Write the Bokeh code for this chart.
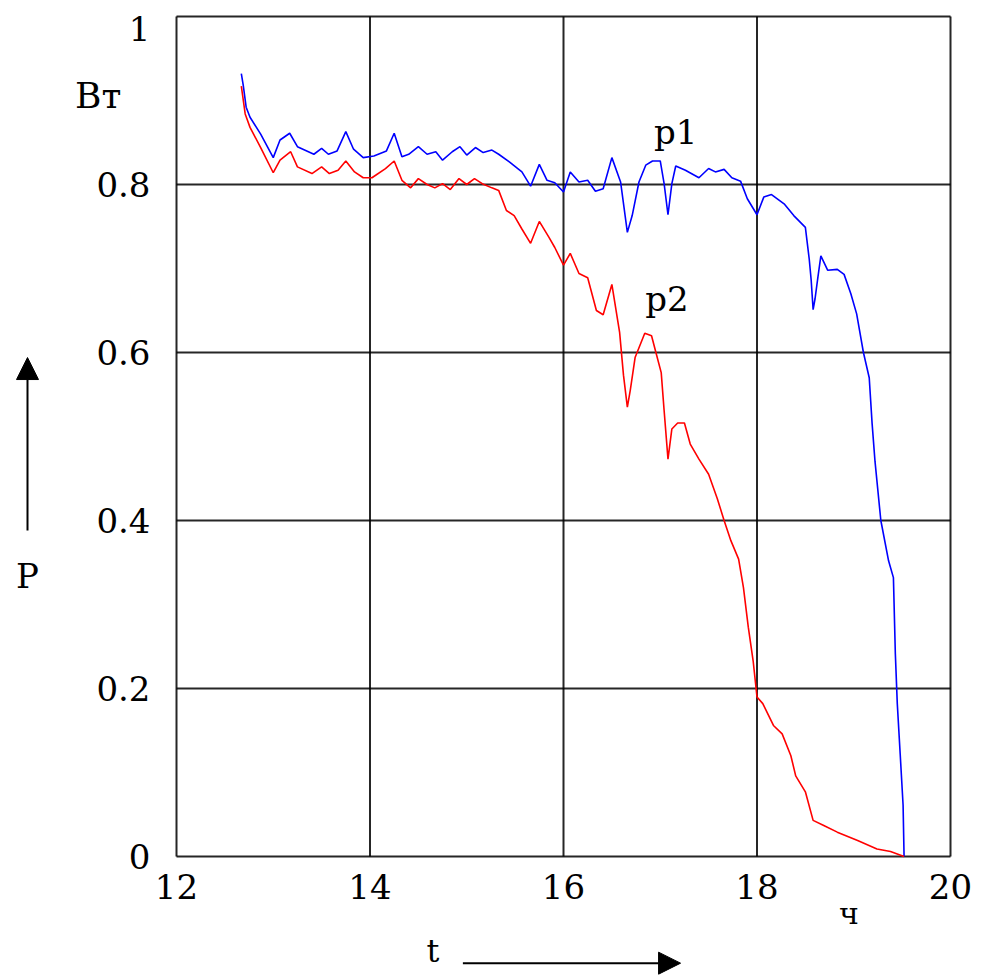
from bokeh.plotting import figure
from bokeh.models import Range1d, Arrow, NormalHead
from bokeh.core.properties import value
from bokeh.embed import file_html
from bokeh.resources import INLINE

# ---- data ----
p1_t = [12.67, 12.69, 12.72, 12.76, 12.87, 13.00, 13.07, 13.17, 13.25, 13.42, 13.50, 13.57,
        13.66, 13.75, 13.83, 13.93, 14.04, 14.17, 14.25, 14.33, 14.40, 14.50, 14.59, 14.68,
        14.75, 14.85, 14.93, 15.00, 15.09, 15.17, 15.26, 15.33, 15.44, 15.57, 15.66, 15.75,
        15.83, 15.91, 16.00, 16.07, 16.16, 16.25, 16.33, 16.41, 16.50, 16.59, 16.66, 16.71,
        16.78, 16.85, 16.92, 17.00, 17.04, 17.08, 17.12, 17.16, 17.26, 17.40, 17.50, 17.57,
        17.66, 17.74, 17.83, 17.90, 18.00, 18.07, 18.15, 18.28, 18.38, 18.50, 18.54, 18.56,
        18.58, 18.60, 18.63, 18.66, 18.73, 18.83, 18.90, 18.97, 19.03, 19.10, 19.16, 19.19,
        19.22, 19.28, 19.36, 19.41, 19.43, 19.45, 19.48, 19.51, 19.52]
p1_P = [0.932, 0.918, 0.892, 0.880, 0.860, 0.832, 0.853, 0.861, 0.845, 0.836, 0.843, 0.836,
        0.840, 0.863, 0.842, 0.832, 0.834, 0.840, 0.861, 0.833, 0.836, 0.845, 0.836, 0.839,
        0.829, 0.839, 0.845, 0.835, 0.844, 0.838, 0.841, 0.836, 0.827, 0.815, 0.798, 0.824,
        0.805, 0.802, 0.791, 0.815, 0.803, 0.805, 0.792, 0.795, 0.832, 0.803, 0.743, 0.763,
        0.803, 0.823, 0.828, 0.828, 0.801, 0.764, 0.801, 0.822, 0.817, 0.808, 0.819, 0.815,
        0.818, 0.808, 0.804, 0.783, 0.764, 0.785, 0.788, 0.777, 0.763, 0.749, 0.711, 0.686,
        0.651, 0.664, 0.690, 0.715, 0.698, 0.699, 0.693, 0.670, 0.646, 0.600, 0.570, 0.515,
        0.470, 0.400, 0.352, 0.332, 0.241, 0.182, 0.122, 0.061, 0.0]

p2_t = [12.67, 12.71, 12.76, 12.87, 13.00, 13.07, 13.18, 13.25, 13.40, 13.50, 13.58, 13.67,
        13.75, 13.84, 13.93, 14.02, 14.16, 14.25, 14.33, 14.42, 14.50, 14.59, 14.67, 14.75,
        14.83, 14.92, 15.00, 15.08, 15.16, 15.26, 15.33, 15.41, 15.49, 15.57, 15.66, 15.75,
        15.85, 15.91, 16.00, 16.07, 16.16, 16.25, 16.34, 16.41, 16.50, 16.58, 16.62, 16.66,
        16.69, 16.74, 16.84, 16.91, 16.96, 17.01, 17.04, 17.08, 17.12, 17.18, 17.25, 17.31,
        17.40, 17.50, 17.59, 17.66, 17.73, 17.81, 17.86, 17.91, 17.96, 18.00, 18.06, 18.17,
        18.26, 18.35, 18.40, 18.50, 18.58, 18.69, 18.83, 19.04, 19.24, 19.38, 19.52]
p2_P = [0.917, 0.884, 0.868, 0.844, 0.814, 0.829, 0.839, 0.821, 0.813, 0.821, 0.813, 0.817,
        0.828, 0.815, 0.808, 0.808, 0.819, 0.828, 0.805, 0.796, 0.807, 0.800, 0.796, 0.801,
        0.794, 0.807, 0.800, 0.807, 0.801, 0.796, 0.793, 0.769, 0.763, 0.747, 0.730, 0.756,
        0.737, 0.725, 0.704, 0.718, 0.694, 0.689, 0.650, 0.645, 0.681, 0.624, 0.573, 0.535,
        0.555, 0.594, 0.623, 0.620, 0.598, 0.576, 0.531, 0.473, 0.509, 0.516, 0.516, 0.491,
        0.473, 0.455, 0.426, 0.400, 0.376, 0.354, 0.320, 0.273, 0.233, 0.190, 0.182, 0.156,
        0.146, 0.120, 0.096, 0.077, 0.043, 0.037, 0.029, 0.019, 0.009, 0.006, 0.0]

x_ticks = [12, 14, 16, 18, 20]
x_tick_labels = ["12", "14", "16", "18", "20"]
y_ticks = [0, 0.2, 0.4, 0.6, 0.8, 1]
y_tick_labels = ["0", "0.2", "0.4", "0.6", "0.8", "1"]

FONT = "DejaVu Serif"
W, H = 983, 979
# plot box in canvas pixels
L, R, T, B = 176, 950, 16, 856
XMIN, XMAX, YMIN, YMAX = 12, 20, 0, 1
sx = (R - L) / (XMAX - XMIN)
sy = (B - T) / (YMAX - YMIN)

p = figure(width=W, height=H, output_backend="svg", toolbar_location=None,
           x_range=Range1d(XMIN - L / sx, XMAX + (W - R) / sx),
           y_range=Range1d(YMIN - (H - B) / sy, YMAX + T / sy),
           min_border=0)
p.axis.visible = False
p.grid.visible = False
p.outline_line_color = None
p.background_fill_color = "white"
p.border_fill_color = "white"

# grid + box
p.segment(x0=x_ticks, y0=[YMIN] * len(x_ticks), x1=x_ticks, y1=[YMAX] * len(x_ticks),
          line_color="black", line_width=2, line_alpha=0.85)
p.segment(x0=[XMIN] * len(y_ticks), y0=y_ticks, x1=[XMAX] * len(y_ticks), y1=y_ticks,
          line_color="black", line_width=2, line_alpha=0.85)

# curves
p.line(p1_t, p1_P, line_color="#0000ff", line_width=1.6)
p.line(p2_t, p2_P, line_color="#ff0000", line_width=1.6)

# tick labels
p.text(x=x_ticks, y=[YMIN] * len(x_ticks), text=x_tick_labels, y_offset=30,
       text_font=value(FONT), text_font_size="34px", text_align="center",
       text_baseline="middle", text_color="black")
p.text(x=[XMIN] * len(y_ticks), y=y_ticks, text=y_tick_labels, x_offset=-26,
       y_offset=[12 if t == YMAX else 0 for t in y_ticks],
       text_font=value(FONT), text_font_size="34px", text_align="right",
       text_baseline="middle", text_color="black")

def lab(x, y, text, size="34px"):
    p.text(x=[x], y=[y], text=[text], text_font=value(FONT), text_font_size=size,
           text_align="center", text_baseline="middle", text_color="black")

lab(17.16, 0.862, "p1")
lab(17.07, 0.664, "p2")
lab(11.19, 0.906, "Вт", size="36px")
lab(10.46, 0.334, "P")
lab(14.65, -0.113, "t", size="32px")
lab(18.95, -0.068, "ч", size="30px")

p.add_layout(Arrow(end=NormalHead(size=22, fill_color="black", line_color="black"),
                   x_start=10.46, y_start=0.388, x_end=10.46, y_end=0.594,
                   line_width=2, line_color="black"))
p.add_layout(Arrow(end=NormalHead(size=22, fill_color="black", line_color="black"),
                   x_start=14.96, y_start=-0.127, x_end=17.21, y_end=-0.127,
                   line_width=2, line_color="black"))

open("out.html", "w").write(file_html(p, INLINE))
